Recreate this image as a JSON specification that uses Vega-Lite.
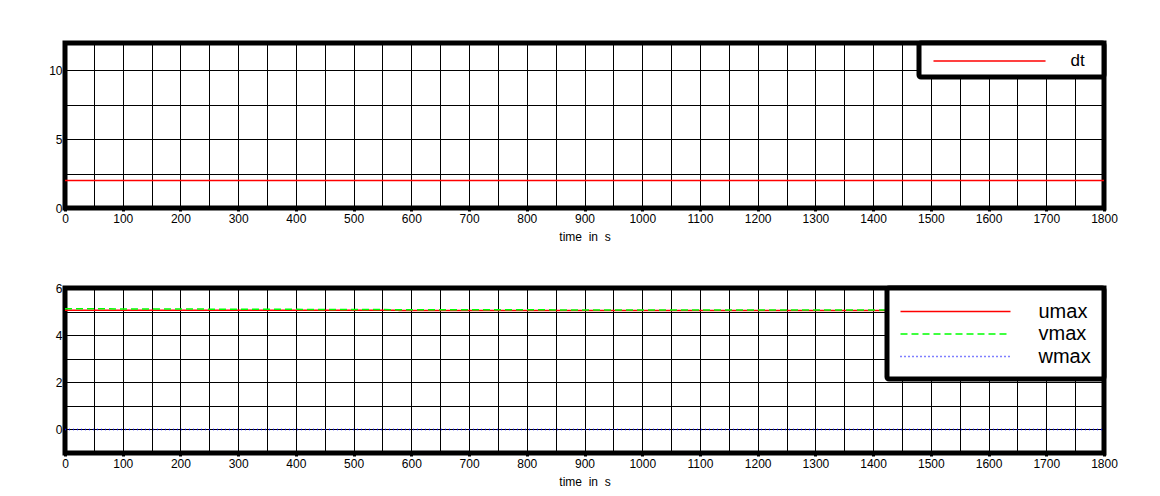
{
  "$schema": "https://vega.github.io/schema/vega-lite/v6.json",
  "background": "white",
  "padding": {"left": 32, "top": 38, "right": 0, "bottom": 0},
  "spacing": 34,
  "datasets": {
    "top": [
      {"time": 0, "value": 2, "series": "dt"},
      {"time": 300, "value": 2, "series": "dt"},
      {"time": 600, "value": 2, "series": "dt"},
      {"time": 900, "value": 2, "series": "dt"},
      {"time": 1200, "value": 2, "series": "dt"},
      {"time": 1500, "value": 2, "series": "dt"},
      {"time": 1800, "value": 2, "series": "dt"}
    ],
    "bottom": [
      {"time": 0, "value": 5.06, "series": "umax"},
      {"time": 300, "value": 5.06, "series": "umax"},
      {"time": 600, "value": 5.05, "series": "umax"},
      {"time": 900, "value": 5.05, "series": "umax"},
      {"time": 1200, "value": 5.05, "series": "umax"},
      {"time": 1500, "value": 5.05, "series": "umax"},
      {"time": 1800, "value": 5.05, "series": "umax"},
      {"time": 0, "value": 5.12, "series": "vmax"},
      {"time": 300, "value": 5.1, "series": "vmax"},
      {"time": 600, "value": 5.08, "series": "vmax"},
      {"time": 900, "value": 5.07, "series": "vmax"},
      {"time": 1200, "value": 5.07, "series": "vmax"},
      {"time": 1500, "value": 5.06, "series": "vmax"},
      {"time": 1800, "value": 5.06, "series": "vmax"},
      {"time": 0, "value": 0, "series": "wmax"},
      {"time": 300, "value": 0, "series": "wmax"},
      {"time": 600, "value": 0, "series": "wmax"},
      {"time": 900, "value": 0, "series": "wmax"},
      {"time": 1200, "value": 0, "series": "wmax"},
      {"time": 1500, "value": 0, "series": "wmax"},
      {"time": 1800, "value": 0, "series": "wmax"}
    ]
  },
  "config": {
    "font": "Liberation Sans",
    "view": {"stroke": "black", "strokeWidth": 5},
    "axis": {
      "domain": false,
      "grid": true,
      "gridColor": "black",
      "gridOpacity": 1,
      "gridWidth": 1,
      "labelColor": "black",
      "labelFontSize": 12,
      "labelFont": "Liberation Sans",
      "tickColor": "black",
      "titleFont": "Liberation Sans",
      "titleFontSize": 12,
      "titleFontWeight": "normal",
      "titleColor": "black"
    },
    "legend": {
      "strokeColor": "black",
      "strokeWidth": 5,
      "fillColor": "white",
      "cornerRadius": 2,
      "orient": "top-right",
      "offset": 0,
      "symbolStrokeWidth": 1.5,
      "labelFont": "Liberation Sans",
      "labelColor": "black",
      "title": null
    }
  },
  "resolve": {
    "scale": {"color": "independent", "strokeDash": "independent"},
    "legend": {"color": "independent", "strokeDash": "independent"}
  },
  "vconcat": [
    {
      "width": 1039,
      "height": 165,
      "data": {"name": "top"},
      "mark": {"type": "line", "strokeWidth": 1.5, "clip": true},
      "encoding": {
        "x": {
          "field": "time",
          "type": "quantitative",
          "scale": {"domain": [0, 1800], "nice": false, "zero": false},
          "axis": {
            "title": "time \u00a0in \u00a0s",
            "values": [0,50,100,150,200,250,300,350,400,450,500,550,600,650,700,750,800,850,900,950,1000,1050,1100,1150,1200,1250,1300,1350,1400,1450,1500,1550,1600,1650,1700,1750,1800],
            "labelExpr": "datum.value % 100 === 0 ? datum.label : ''",
            "format": "d",
            "tickSize": 3,
            "tickWidth": 3,
            "tickOpacity": {"condition": {"test": "datum.value % 100 === 0", "value": 1}, "value": 0},
            "labelPadding": 2,
            "titlePadding": 7,
            "labelFlush": false
          }
        },
        "y": {
          "field": "value",
          "type": "quantitative",
          "scale": {"domain": [0, 12], "nice": false, "zero": false},
          "axis": {
            "title": null,
            "values": [0, 2.5, 5, 7.5, 10, 12],
            "labelExpr": "datum.value % 5 === 0 ? datum.label : ''",
            "tickSize": 2,
            "tickWidth": 3,
            "tickOpacity": {"condition": {"test": "datum.value % 5 === 0", "value": 1}, "value": 0},
            "labelPadding": 1,
            "minExtent": 30,
            "maxExtent": 30
          }
        },
        "color": {
          "field": "series",
          "type": "nominal",
          "scale": {"domain": ["dt"], "range": ["#ff0000"]},
          "legend": {
            "symbolType": "M-0.39,0H12.06M17.3,0",
            "symbolSize": 324,
            "labelOffset": 123.5,
            "labelFontSize": 17,
            "padding": 8
          }
        }
      }
    },
    {
      "width": 1039,
      "height": 165,
      "data": {"name": "bottom"},
      "mark": {"type": "line", "strokeWidth": 1.5, "clip": true},
      "encoding": {
        "x": {
          "field": "time",
          "type": "quantitative",
          "scale": {"domain": [0, 1800], "nice": false, "zero": false},
          "axis": {
            "title": "time \u00a0in \u00a0s",
            "values": [0,50,100,150,200,250,300,350,400,450,500,550,600,650,700,750,800,850,900,950,1000,1050,1100,1150,1200,1250,1300,1350,1400,1450,1500,1550,1600,1650,1700,1750,1800],
            "labelExpr": "datum.value % 100 === 0 ? datum.label : ''",
            "format": "d",
            "tickSize": 3,
            "tickWidth": 3,
            "tickOpacity": {"condition": {"test": "datum.value % 100 === 0", "value": 1}, "value": 0},
            "labelPadding": 2,
            "titlePadding": 7,
            "labelFlush": false
          }
        },
        "y": {
          "field": "value",
          "type": "quantitative",
          "scale": {"domain": [-1, 6], "nice": false, "zero": false},
          "axis": {
            "title": null,
            "values": [-1, 0, 1, 2, 3, 4, 5, 6],
            "labelExpr": "datum.value >= 0 && datum.value % 2 === 0 ? datum.label : ''",
            "tickSize": 2,
            "tickWidth": 3,
            "tickOpacity": {"condition": {"test": "datum.value >= 0 && datum.value % 2 === 0", "value": 1}, "value": 0},
            "labelPadding": 1,
            "minExtent": 30,
            "maxExtent": 30
          }
        },
        "color": {
          "field": "series",
          "type": "nominal",
          "scale": {"domain": ["umax", "vmax", "wmax"], "range": ["#ff0000", "#00ff00", "#0000ff"]},
          "legend": {
            "symbolType": "M-1,0H10",
            "symbolSize": 400,
            "labelOffset": 117,
            "labelFontSize": 20,
            "rowPadding": 1.5,
            "padding": 12.5
          }
        },
        "strokeDash": {
          "field": "series",
          "type": "nominal",
          "scale": {"domain": ["umax", "vmax", "wmax"], "range": [[1, 0], [7, 4], [1, 3]]},
          "legend": {
            "symbolType": "M-1,0H10",
            "symbolSize": 400,
            "labelOffset": 117,
            "labelFontSize": 20,
            "rowPadding": 1.5,
            "padding": 12.5
          }
        }
      }
    }
  ]
}
